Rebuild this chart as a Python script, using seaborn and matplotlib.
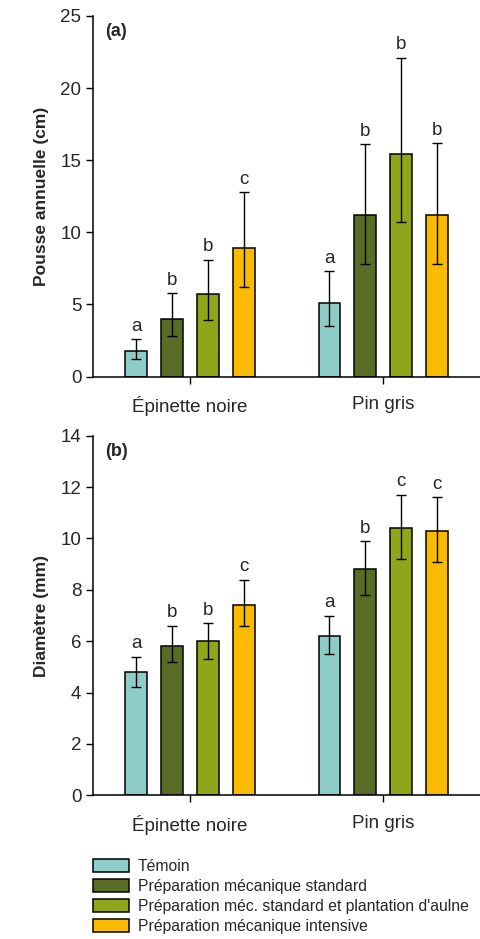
import numpy as np
import pandas as pd
import matplotlib
matplotlib.use("Agg")
import matplotlib.pyplot as plt
import seaborn as sns
from matplotlib.container import BarContainer

# --- data ---
especes = ["Épinette noire", "Pin gris"]
traitements = ["Témoin",
               "Préparation mécanique standard",
               "Préparation méc. standard et plantation d'aulne",
               "Préparation mécanique intensive"]
couleurs = ["#8ECCC8", "#5A6B25", "#8FA61B", "#F9BA00"]

# (a) pousse annuelle (cm): one list per treatment, [épinette, pin]
pousse = [[1.8, 5.1], [4.0, 11.2], [5.7, 15.4], [8.9, 11.2]]
pousse_haut = [[2.6, 7.3], [5.8, 16.1], [8.1, 22.1], [12.8, 16.2]]
pousse_bas = [[1.2, 3.5], [2.8, 7.8], [3.9, 10.7], [6.2, 7.8]]
pousse_lettres = [["a", "a"], ["b", "b"], ["b", "b"], ["c", "b"]]

# (b) diamètre (mm)
diam = [[4.8, 6.2], [5.8, 8.8], [6.0, 10.4], [7.4, 10.3]]
diam_haut = [[5.4, 7.0], [6.6, 9.9], [6.7, 11.7], [8.4, 11.6]]
diam_bas = [[4.2, 5.5], [5.2, 7.8], [5.3, 9.2], [6.6, 9.1]]
diam_lettres = [["a", "a"], ["b", "b"], ["b", "c"], ["c", "c"]]

sns.set_theme(style="ticks")
plt.rcParams["font.family"] = ["Liberation Sans", "DejaVu Sans"]

fig = plt.figure(figsize=(4.8, 9.39), dpi=100)
ax_a = fig.add_axes([0.194, 0.599, 0.806, 0.384])
ax_b = fig.add_axes([0.194, 0.153, 0.806, 0.383])


def panel(ax, vals, haut, bas, lettres, ylab, ymax, step, tag):
    rows = []
    for t, trait in enumerate(traitements):
        for e, esp in enumerate(especes):
            rows.append({"espece": esp, "traitement": trait, "val": vals[t][e]})
    df = pd.DataFrame(rows)
    sns.barplot(data=df, x="espece", y="val", hue="traitement",
                hue_order=traitements, order=especes, palette=couleurs,
                width=0.742, gap=0.39, edgecolor="black", linewidth=1.1,
                errorbar=None, saturation=1, ax=ax)
    bars = [c for c in ax.containers if isinstance(c, BarContainer)]
    for t, cont in enumerate(bars):
        for e, p in enumerate(cont.patches):
            xc = p.get_x() + p.get_width() / 2
            v = vals[t][e]
            ax.errorbar(xc, v, yerr=[[v - bas[t][e]], [haut[t][e] - v]],
                        fmt="none", ecolor="black", elinewidth=1.0,
                        capsize=3.6, capthick=1.0)
            ax.annotate(lettres[t][e], (xc, haut[t][e]), xytext=(0, 6),
                        textcoords="offset points", ha="center", va="baseline",
                        fontsize=13.5)
    ax.set_xlim(-0.5, 1.5)
    ax.set_ylim(0, ymax)
    ax.set_yticks(np.arange(0, ymax + 0.01, step))
    ax.set_xlabel("")
    ax.set_ylabel(ylab, fontsize=12.5, fontweight="bold", labelpad=8)
    ax.tick_params(axis="both", labelsize=13.5, length=5, width=1, color="black")
    ax.tick_params(axis="x", pad=9)
    for s in ["left", "bottom"]:
        ax.spines[s].set_color("black")
        ax.spines[s].set_linewidth(1.1)
    sns.despine(ax=ax)
    ax.text(0.031, 0.98, tag, transform=ax.transAxes, fontsize=13,
            fontweight="bold", ha="left", va="top")


panel(ax_a, pousse, pousse_haut, pousse_bas, pousse_lettres,
      "Pousse annuelle (cm)", 25, 5, "(a)")
panel(ax_b, diam, diam_haut, diam_bas, diam_lettres,
      "Diamètre (mm)", 14, 2, "(b)")

handles, labels = ax_b.get_legend_handles_labels()
ax_a.get_legend().remove()
ax_b.get_legend().remove()
fig.legend(handles, labels, loc="upper left", bbox_to_anchor=(93 / 480, 1 - 859 / 939),
           frameon=False, fontsize=11.3, handlelength=2.3, handleheight=0.9,
           handletextpad=0.55, labelspacing=0.32, borderpad=0, borderaxespad=0)

fig.savefig("out.png", dpi=100)
